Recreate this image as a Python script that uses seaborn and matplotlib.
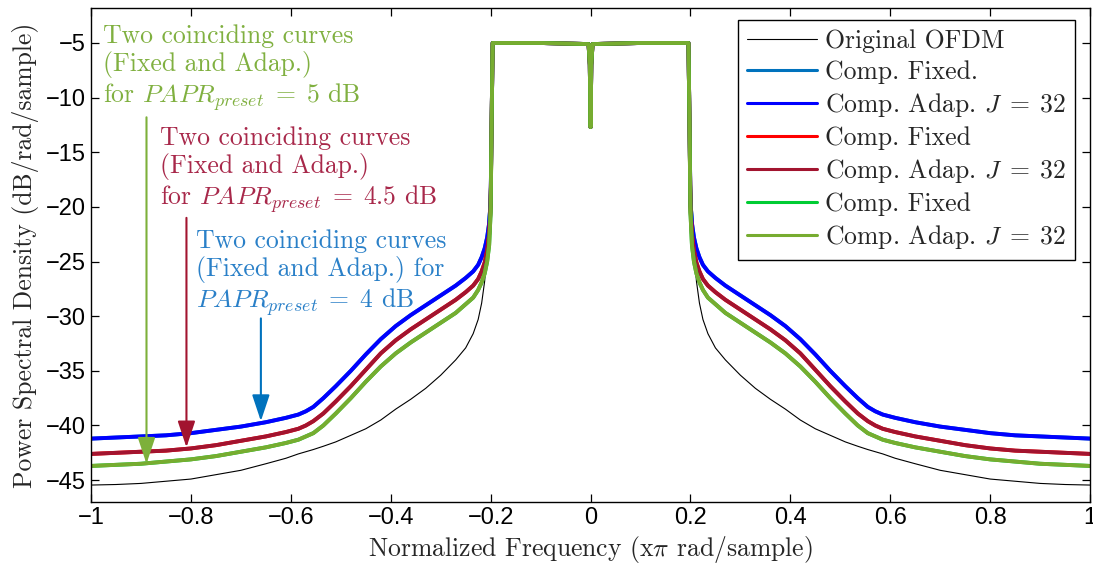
import numpy as np
import pandas as pd
import seaborn as sns
import matplotlib.pyplot as plt

# positive half of the spectrum (curves are symmetric about 0)
skirt_f = [0.198, 0.2, 0.203, 0.207, 0.212, 0.218, 0.225, 0.235, 0.25, 0.27, 0.3,
           0.33, 0.36, 0.39, 0.42, 0.45, 0.48, 0.51, 0.535, 0.555, 0.57, 0.585,
           0.61, 0.65, 0.7, 0.75, 0.8, 0.85, 0.9, 0.95, 1.0]
orig_db = [-12.0, -16.0, -19.0, -24.0, -26.8, -28.8, -30.3, -31.6, -32.9, -34.0, -35.4,
           -36.6, -37.6, -38.5, -39.5, -40.3, -40.9, -41.5, -41.9, -42.2, -42.4, -42.6,
           -43.0, -43.5, -44.1, -44.5, -44.9, -45.1, -45.3, -45.4, -45.45]
papr4_db = [-12.0, -19.5, -21.5, -22.8, -23.8, -24.6, -25.3, -25.9, -26.5, -27.2, -28.1,
            -29.0, -29.9, -30.9, -32.1, -33.5, -35.0, -36.4, -37.5, -38.3, -38.7, -39.0,
            -39.3, -39.7, -40.1, -40.4, -40.7, -40.9, -41.0, -41.1, -41.2]
papr45_db = [-12.0, -20.0, -22.5, -24.0, -25.1, -25.9, -26.6, -27.2, -27.8, -28.5, -29.4,
             -30.3, -31.2, -32.2, -33.4, -34.9, -36.4, -37.8, -38.9, -39.6, -40.0, -40.3,
             -40.6, -41.0, -41.4, -41.8, -42.1, -42.3, -42.4, -42.5, -42.6]
papr5_db = [-12.0, -20.5, -23.5, -25.0, -26.1, -26.9, -27.6, -28.3, -28.9, -29.7, -30.6,
            -31.5, -32.4, -33.4, -34.6, -36.0, -37.5, -38.9, -40.0, -40.7, -41.0, -41.3,
            -41.6, -42.0, -42.4, -42.8, -43.1, -43.3, -43.5, -43.6, -43.7]

# in-band part (flat top with the DC notch)
band_f = [-0.196, -0.1, -0.004, -0.0015, 0.0, 0.0015, 0.004, 0.1, 0.196]
band_db = [-5.0, -5.0, -5.1, -7.0, -12.7, -7.0, -5.1, -5.0, -5.0]

xticks = [-1, -0.8, -0.6, -0.4, -0.2, 0, 0.2, 0.4, 0.6, 0.8, 1]
xtick_labels = ['\u22121', '\u22120.8', '\u22120.6', '\u22120.4', '\u22120.2', '0',
                '0.2', '0.4', '0.6', '0.8', '1']
yticks = [-45, -40, -35, -30, -25, -20, -15, -10, -5]
ytick_labels = ['\u221245', '\u221240', '\u221235', '\u221230', '\u221225', '\u221220',
                '\u221215', '\u221210', '\u22125']


def full(skirt):
    f = [-v for v in skirt_f[::-1]] + band_f + skirt_f
    d = skirt[::-1] + band_db + skirt
    return pd.DataFrame({'f': f, 'psd': d})


adap = 'Comp. Adap. $J\\;=\\;32$'
curves = [
    ('Original OFDM', orig_db, '#000000', 0.8),
    ('Comp. Fixed.', papr4_db, '#0072BD', 2.8),
    (adap, papr4_db, '#0000FF', 2.8),
    ('Comp. Fixed', papr45_db, '#FF0000', 2.8),
    (adap, papr45_db, '#A2142F', 2.8),
    ('Comp. Fixed', papr5_db, '#00CC33', 2.8),
    (adap, papr5_db, '#77AC30', 2.8),
]

sns.set_style('ticks')
plt.rcParams['mathtext.fontset'] = 'cm'
plt.rcParams['font.family'] = ['cmr10', 'DejaVu Serif']
plt.rcParams['axes.unicode_minus'] = True

fig = plt.figure(figsize=(10.93, 5.68), dpi=100)
ax = fig.add_axes([0.0833, 0.1162, 0.914, 0.8697])

for name, vals, col, lw in curves:
    sns.lineplot(data=full(vals), x='f', y='psd', ax=ax, color=col, lw=lw,
                 label=name, sort=False, estimator=None)

ax.set_xlim(-1, 1)
ax.set_ylim(-47, -1.8)
ax.set_xticks(xticks)
ax.set_xticklabels(xtick_labels, family='Liberation Sans', fontsize=17)
ax.set_yticks(yticks)
ax.set_yticklabels(ytick_labels, family='Liberation Sans', fontsize=17)
ax.tick_params(direction='in', length=6, width=0.9, top=True, right=True, colors='black')
for s in ax.spines.values():
    s.set_color('black')
    s.set_linewidth(1.0)
ax.set_xlabel('Normalized Frequency (x$\\pi$ rad/sample)', fontsize=18.5, labelpad=4)
ax.set_ylabel('Power Spectral Density (dB/rad/sample)', fontsize=18.5, labelpad=5)

leg = ax.legend(loc='upper right', bbox_to_anchor=(0.985, 0.976), fontsize=18.5,
                frameon=True, fancybox=False, edgecolor='black', framealpha=1,
                handlelength=2.75, handletextpad=0.3, labelspacing=0.28, borderpad=0.35,
                borderaxespad=0)
leg.get_frame().set_linewidth(1.0)
for ln, (_, _, _, lw) in zip(leg.get_lines(), curves):
    ln.set_linewidth(2.2 if lw > 1 else 0.8)

# annotations
ax.text(-0.976, -3.3, 'Two coinciding curves\n(Fixed and Adap.)\nfor $PAPR_{preset}\\;=\\;5$ dB',
        color='#80B040', fontsize=18.5, va='top', ha='left', linespacing=1.15)
ax.text(-0.862, -12.6, 'Two coinciding curves\n(Fixed and Adap.)\nfor $PAPR_{preset}\\;=\\;4.5$ dB',
        color='#A8284A', fontsize=18.5, va='top', ha='left', linespacing=1.15)
ax.text(-0.79, -22.0, 'Two coinciding curves\n(Fixed and Adap.) for\n$PAPR_{preset}\\;=\\;4$ dB',
        color='#2A80C8', fontsize=18.5, va='top', ha='left', linespacing=1.15)

arrows = [(-0.889, -11.8, -43.5, '#7DB03A'), (-0.809, -21.0, -42.0, '#A2142F'),
          (-0.66, -30.2, -39.6, '#0072BD')]
for xa, y0, y1, col in arrows:
    ax.annotate('', xy=(xa, y1), xytext=(xa, y0),
                arrowprops=dict(arrowstyle='-|>,head_length=0.9,head_width=0.3',
                                color=col, lw=1.5, shrinkA=0, shrinkB=0,
                                mutation_scale=18))

fig.savefig('out.png', dpi=100)
